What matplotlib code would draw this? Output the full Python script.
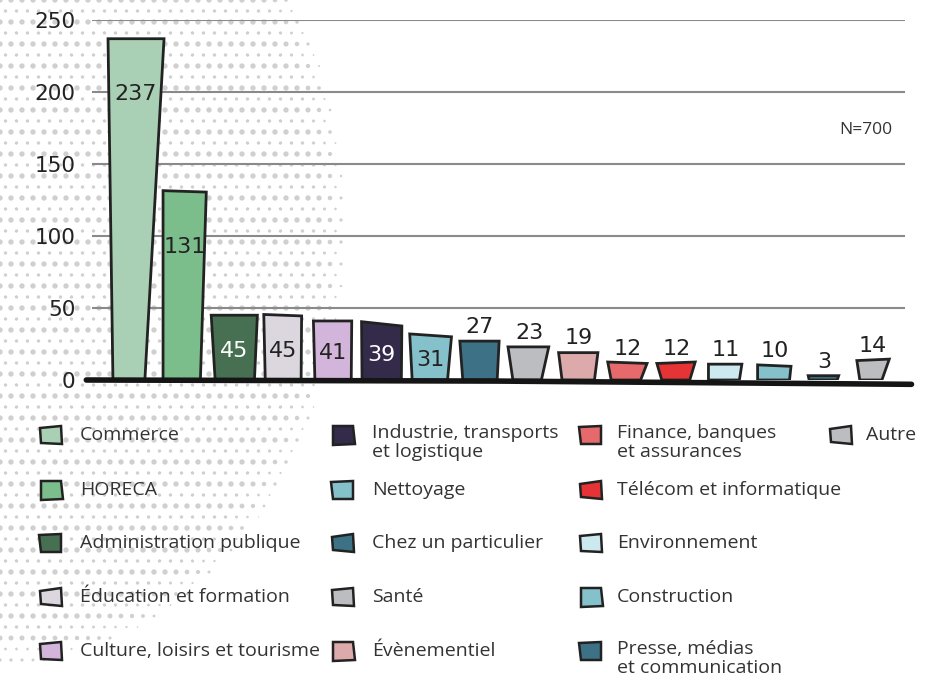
import numpy as np
import matplotlib
matplotlib.use("Agg")
import matplotlib.pyplot as plt
from matplotlib.patches import Polygon

# data
sectors = ["Commerce", "HORECA", "Administration publique", "Éducation et formation",
           "Culture, loisirs et tourisme", "Industrie, transports\net logistique", "Nettoyage",
           "Chez un particulier", "Santé", "Évènementiel", "Finance, banques\net assurances",
           "Télécom et informatique", "Environnement", "Construction",
           "Presse, médias\net communication", "Autre"]
bar_values = [237, 131, 45, 45, 41, 39, 31, 27, 23, 19, 12, 12, 11, 10, 3, 14]
colors = ["#a9cfb5", "#7bbd8b", "#476f51", "#dcd6df", "#d3b4da", "#332b49", "#85c1ca",
          "#3d7286", "#bcbdc1", "#dcaaaa", "#e66a6b", "#e63336", "#cde9f0", "#85c1ca",
          "#3d7286", "#bcbdc1"]
y_ticks = [0, 50, 100, 150, 200, 250]
n_note = "N=700"

W, H = 939, 682
fig = plt.figure(figsize=(W / 100, H / 100), dpi=100)

# background layer (dots + legend), in pixel coords
bg = fig.add_axes([0, 0, 1, 1], zorder=-1)
bg.set_xlim(0, W)
bg.set_ylim(H, 0)
bg.axis("off")

# halftone dots in an ellipse on the left
gx, gy = np.meshgrid(np.arange(0, 380, 11.0), np.arange(0, 690, 11.0))
odd = (np.round(gy / 11) % 2).astype(bool)
gx = gx + np.where(odd, 5.5, 0)
rr = np.sqrt((gx / 345) ** 2 + ((gy - 230) / 435) ** 2)
keep = rr < 1.0
fade = np.clip((1.0 - rr) / 0.08, 0, 1) ** 0.5
sizes = np.where(odd, 6.0, 15.0) * fade
bg.scatter(gx[keep], gy[keep], s=sizes[keep], color="#d0d0d0", linewidths=0)

# main axes
ax = fig.add_axes([92 / W, (H - 380) / H, 813 / W, 360 / H])
ax.set_facecolor("none")
ax.set_xlim(-0.896, 15.65)
ax.set_ylim(0, 250)
for s in ax.spines.values():
    s.set_visible(False)
ax.set_xticks([])
ax.set_yticks(y_ticks)
ax.set_yticklabels([str(t) for t in y_ticks], fontsize=15.5, color="#222222",
                   family="DejaVu Sans")
ax.tick_params(axis="y", length=0, pad=12)
for t in y_ticks[1:]:
    ax.axhline(t, color="#8a8a8a", lw=1.5, zorder=1)

# hand-drawn look: (bottom-left, bottom-right, top-right, top-left) x offsets, top tilt
shapes = [(-0.47, 0.18, 0.57, -0.57, 0), (-0.45, 0.31, 0.43, -0.45, -1),
          (-0.39, 0.41, 0.47, -0.47, 0), (-0.37, 0.36, 0.37, -0.40, -1),
          (-0.36, 0.38, 0.39, -0.39, 0), (-0.40, 0.40, 0.41, -0.41, -3),
          (-0.38, 0.34, 0.42, -0.43, -2), (-0.35, 0.35, 0.39, -0.41, 0),
          (-0.33, 0.25, 0.40, -0.43, 0), (-0.33, 0.33, 0.40, -0.40, 0),
          (-0.33, 0.27, 0.40, -0.40, -1), (-0.30, 0.27, 0.38, -0.40, 1),
          (-0.35, 0.28, 0.33, -0.35, 0), (-0.35, 0.30, 0.33, -0.35, -1),
          (-0.30, 0.27, 0.30, -0.32, 0), (-0.27, 0.18, 0.33, -0.33, 1)]

white_labels = {2, 5}
for i, (v, c, sh) in enumerate(zip(bar_values, colors, shapes)):
    bl, br, tr, tl, tilt = sh
    poly = Polygon([(i + bl, 0), (i + br, 0), (i + tr, v + tilt * 0.5), (i + tl, v - tilt * 0.5)],
                   closed=True, facecolor=c, edgecolor="#222222", lw=2, zorder=3,
                   joinstyle="miter")
    ax.add_patch(poly)
    tc = "white" if i in white_labels else "#222222"
    if v > 100:
        ax.annotate(str(v), (i, v), xytext=(0, -40), textcoords="offset points",
                    ha="center", va="center", fontsize=16, color=tc, zorder=4)
    elif v > 28:
        ax.text(i, v * 0.45, str(v), ha="center", va="center", fontsize=16,
                color=tc, zorder=4)
    else:
        ax.annotate(str(v), (i, v), xytext=(0, 3), textcoords="offset points",
                    ha="center", va="bottom", fontsize=16, color=tc, zorder=4)

# thick baseline
ax.plot([-0.007, 0.5, 1.008], [0, -0.003, -0.012], transform=ax.transAxes,
        color="#151515", lw=4, solid_capstyle="round", clip_on=False, zorder=5)

ax.text(0.985, 0.695, n_note, transform=ax.transAxes, ha="right", va="center",
        fontsize=12.5, color="#333333", family="Open Sans")

# legend, laid out in 4 columns
col_x = [40, 332, 580, 830]
text_dx = [40, 40, 37, 36]
row_y = [435, 490, 543, 597, 651]
layout = [[0, 1, 2, 3, 4], [5, 6, 7, 8, 9], [10, 11, 12, 13, 14], [15]]
for ci, col in enumerate(layout):
    for ri, k in enumerate(col):
        x0 = col_x[ci]
        y0 = row_y[ri]
        j = k % 4
        d = [(0, 1), (1, -1), (-1, 0), (0, 2)][j]
        quad = [(x0 + d[0], y0 - 8 + d[1]), (x0 + 21, y0 - 9),
                (x0 + 22 + d[0], y0 + 9), (x0 + 1, y0 + 9 - d[1])]
        bg.add_patch(Polygon(quad, closed=True, facecolor=colors[k],
                             edgecolor="#222222", lw=1.8))
        label = sectors[k]
        tx = x0 + text_dx[ci]
        if "\n" in label:
            bg.text(tx, y0 - 11, label, ha="left", va="top", fontsize=14,
                    color="#333333", family="Open Sans", linespacing=1.08)
        else:
            bg.text(tx, y0, label, ha="left", va="center", fontsize=14,
                    color="#333333", family="Open Sans")

fig.savefig("out.png", dpi=100)
